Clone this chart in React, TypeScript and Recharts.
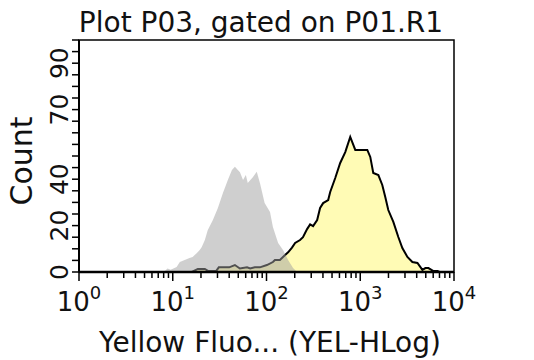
import { ComposedChart, Area, XAxis, YAxis, ReferenceArea } from "recharts";

const FONT = "DejaVu Sans";

// gray (unstained / control) histogram, channel value -> count
const grayX = [8, 8.8, 9.5, 11, 11.9, 15.1, 16.3, 18.1, 19.4, 20.4, 22, 23.6, 26.8, 30.3, 34.3, 38.7, 42.8, 46, 52.1, 56.2, 60.2, 63.1, 71.8, 78.7, 85.1, 95.5, 109, 117, 133, 150, 170, 192, 212];
const grayY = [0, 1.5, 1, 2.2, 4.3, 6, 6.5, 8.2, 9.5, 10.8, 13.8, 18, 22.4, 27.6, 34, 39.7, 44, 45.4, 43, 39.7, 41.8, 38.4, 41, 43.2, 38.4, 29.7, 25.9, 19.4, 12.5, 9.5, 5.2, 1.7, 0];

// yellow (stained) histogram
const yellowX = [16, 18.5, 22, 24, 29, 31, 40, 46, 52, 62, 67, 75, 85, 101, 117, 123, 139, 150, 170, 187, 202, 228, 245, 271, 292, 314, 347, 373, 402, 455, 478, 541, 611, 692, 782, 885, 1189, 1279, 1377, 1560, 1718, 1849, 1991, 2254, 2547, 2812, 3184, 3597, 4074, 4603, 4955, 5333, 6039, 6668, 7000];
const yellowY = [0, 1.3, 1.3, 0.4, 0.4, 2, 2, 3, 1.5, 2, 1.5, 2, 2, 3, 4.3, 5.2, 5.2, 6.5, 8.5, 10.5, 12.5, 13.8, 15, 18.5, 20.5, 19.8, 22.4, 27.6, 29.7, 31, 34.5, 40.5, 47, 51.7, 58.2, 52.6, 52.6, 49.6, 42.7, 41.8, 37.5, 32.3, 26.7, 21.6, 15.1, 10.3, 6.5, 4.3, 3.9, 0.9, 1.7, 1.7, 0.4, 0.4, 0];

const xMajor = [1, 10, 100, 1000, 10000];
const xMinorSteps = [2, 3, 4, 5, 6, 7, 8, 9];
const yTicks = [0, 5, 10, 15, 20, 25, 30, 35, 40, 45, 50, 55, 60, 65, 70, 75, 80, 85, 90, 95, 100];
const yLabelled = [0, 20, 40, 70, 90];

const xTicks = [
  ...xMajor,
  ...xMajor.slice(0, -1).flatMap((d) => xMinorSteps.map((s) => d * s)),
].sort((a, b) => a - b);

const rows = Array.from(new Set([...grayX, ...yellowX]))
  .sort((a, b) => a - b)
  .map((x) => {
    const gi = grayX.indexOf(x);
    const yi = yellowX.indexOf(x);
    return {
      x,
      gray: gi >= 0 ? grayY[gi] : null,
      yellow: yi >= 0 ? yellowY[yi] : null,
    };
  });

const XTick = ({ x, y, payload }: any) => {
  const lg = Math.log10(payload.value);
  const major = Math.abs(lg - Math.round(lg)) < 1e-6;
  return (
    <g>
      <line x1={x} x2={x} y1={y} y2={y + (major ? 9 : 6)} stroke="#000" strokeWidth={1.5} />
      {major && (
        <text x={x} y={y + 39} textAnchor="middle" fontSize={26} fontFamily={FONT} fill="#111">
          10
          <tspan dy={-12} fontSize={18}>{Math.round(lg)}</tspan>
        </text>
      )}
    </g>
  );
};

const YTick = ({ x, y, payload }: any) => (
  <g>
    <line x1={x - 7} x2={x} y1={y} y2={y} stroke="#000" strokeWidth={1.5} />
    {yLabelled.includes(payload.value) && (
      <text
        x={x - 11}
        y={y}
        transform={`rotate(-90 ${x - 11} ${y})`}
        textAnchor="middle"
        fontSize={25}
        fontFamily={FONT}
        fill="#111"
      >
        {payload.value}
      </text>
    )}
  </g>
);

export default function App() {
  return (
    <div style={{ position: "absolute", left: 0, top: 0, width: 534, height: 360, background: "#fff" }}>
      <ComposedChart width={534} height={360} data={rows} margin={{ top: 40, right: 80, bottom: 0, left: 0 }}>
        <XAxis
          dataKey="x"
          type="number"
          scale="log"
          domain={[1, 10000]}
          ticks={xTicks}
          interval={0}
          height={88}
          tickSize={0}
          tickMargin={0}
          tickLine={false}
          tick={<XTick />}
          axisLine={{ stroke: "#000", strokeWidth: 2.5 }}
          allowDataOverflow
        />
        <YAxis
          type="number"
          domain={[0, 100]}
          ticks={yTicks}
          interval={0}
          width={79}
          tickSize={0}
          tickMargin={0}
          tickLine={false}
          tick={<YTick />}
          axisLine={{ stroke: "#000", strokeWidth: 2 }}
          allowDataOverflow
        />
        <Area
          type="linear"
          dataKey="yellow"
          stroke="#000"
          strokeWidth={2}
          fill="#fffbb5"
          fillOpacity={1}
          connectNulls
          dot={false}
          activeDot={false}
          isAnimationActive={false}
        />
        <Area
          type="linear"
          dataKey="gray"
          stroke="none"
          fill="#a0a0a0"
          fillOpacity={0.5}
          connectNulls
          dot={false}
          activeDot={false}
          isAnimationActive={false}
        />
        <ReferenceArea x1={1} x2={10000} y1={0} y2={100} fill="none" stroke="#000" strokeWidth={1.5} ifOverflow="visible" />
      </ComposedChart>
      <svg width={534} height={360} style={{ position: "absolute", left: 0, top: 0, pointerEvents: "none" }}>
        <text x={261} y={32} textAnchor="middle" fontSize={28} fontFamily={FONT} fill="#111">
          Plot P03, gated on P01.R1
        </text>
        <text x={32} y={161} transform="rotate(-90 32 161)" textAnchor="middle" fontSize={30} fontFamily={FONT} fill="#111">
          Count
        </text>
        <text x={270} y={352} textAnchor="middle" fontSize={28} fontFamily={FONT} fill="#111">
          Yellow Fluo... (YEL-HLog)
        </text>
      </svg>
    </div>
  );
}
